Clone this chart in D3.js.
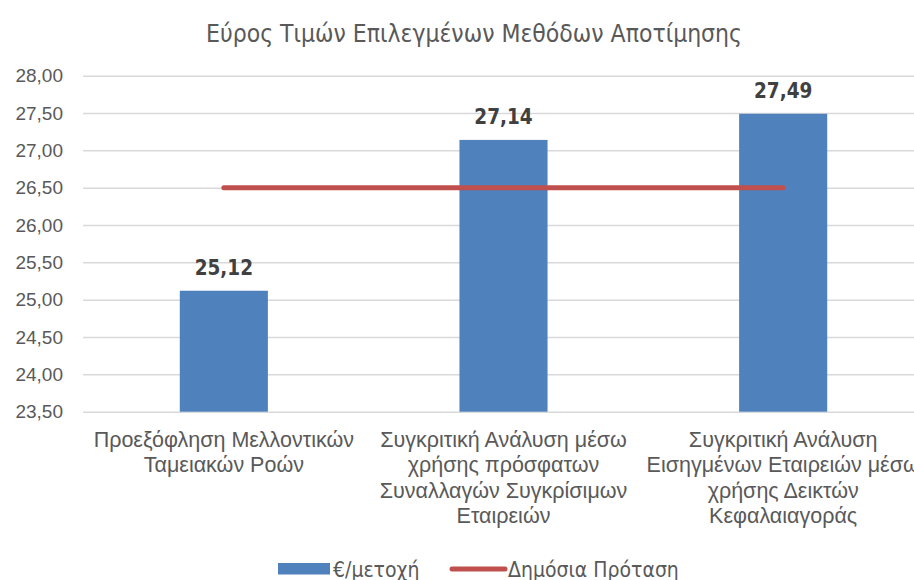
<!DOCTYPE html>
<html>
<head>
<meta charset="utf-8">
<script src="https://cdn.jsdelivr.net/npm/d3@7"></script>
<style>
  body { margin: 0; background: #fff; }
  svg { font-family: "DejaVu Sans Condensed", "DejaVu Sans", sans-serif; }
</style>
</head>
<body>
<script>
// Chart data.
const categories = ['dcf', 'transactions', 'multiples'];
const categoryLines = [
  ['Προεξόφληση Μελλοντικών', 'Ταμειακών Ροών'],
  ['Συγκριτική Ανάλυση μέσω', 'χρήσης πρόσφατων', 'Συναλλαγών Συγκρίσιμων', 'Εταιρειών'],
  ['Συγκριτική Ανάλυση', 'Εισηγμένων Εταιρειών μέσω', 'χρήσης Δεικτών', 'Κεφαλαιαγοράς']
];
const pricePerShare = [25.12, 27.14, 27.49];
const publicOffer = [26.5, 26.5, 26.5];
const yTicks = [23.5, 24, 24.5, 25, 25.5, 26, 26.5, 27, 27.5, 28];
const title = 'Εύρος Τιμών Επιλεγμένων Μεθόδων Αποτίμησης';
const legendLabels = ['€/μετοχή', 'Δημόσια Πρόταση'];

// Dimensions.
const pallette = {width: 914, height: 580};
const plot = {left: 84, right: 923, top: 75.7, bottom: 411.7};
const colors = {bar: '#4F81BD', line: '#C0504D', text: '#595959', label: '#404040', grid: '#D9D9D9'};

const fmt = (v) => v.toFixed(2).replace('.', ',');

const svg = d3.select('body')
  .append('svg')
  .attr('width', pallette.width)
  .attr('height', pallette.height);

// Scales.
const xScale = d3.scaleBand()
  .domain(categories)
  .range([plot.left, plot.right])
  .paddingInner(0.685)
  .paddingOuter(0.3425);

const yScale = d3.scaleLinear()
  .domain([23.5, 28])
  .range([plot.bottom, plot.top]);

// Title.
svg.append('text')
  .attr('x', 474)
  .attr('y', 42)
  .attr('text-anchor', 'middle')
  .style('font-size', '24.5px')
  .style('fill', colors.text)
  .text(title);

// Y axis with gridlines.
const yAxis = d3.axisLeft(yScale)
  .tickValues(yTicks)
  .tickFormat(fmt)
  .tickSize(-(plot.right - plot.left + 1))
  .tickPadding(20);

const yG = svg.append('g')
  .attr('transform', 'translate(' + (plot.left - 1) + ',0)')
  .call(yAxis);
yG.select('.domain').remove();
yG.selectAll('line').attr('stroke', colors.grid).attr('stroke-width', 1.5);
yG.selectAll('text')
  .style('font-size', '19px')
  .style('fill', colors.text)
  .style('font-family', 'inherit');

// Bars.
svg.selectAll('rect.bar')
  .data(pricePerShare)
  .enter()
  .append('rect')
  .attr('class', 'bar')
  .attr('x', (d, i) => xScale(categories[i]))
  .attr('y', (d) => yScale(d))
  .attr('width', xScale.bandwidth())
  .attr('height', (d) => plot.bottom - yScale(d))
  .style('fill', colors.bar);

// Bar value labels.
svg.selectAll('text.value')
  .data(pricePerShare)
  .enter()
  .append('text')
  .attr('class', 'value')
  .attr('x', (d, i) => xScale(categories[i]) + xScale.bandwidth() / 2)
  .attr('y', (d) => yScale(d) - 16)
  .attr('text-anchor', 'middle')
  .style('font-size', '20.5px')
  .style('font-weight', 'bold')
  .style('fill', colors.label)
  .text(fmt);

// Public offer line.
const line = d3.line()
  .x((d, i) => xScale(categories[i]) + xScale.bandwidth() / 2)
  .y((d) => yScale(d));

svg.append('path')
  .datum(publicOffer)
  .attr('d', line)
  .attr('fill', 'none')
  .attr('stroke', colors.line)
  .attr('stroke-width', 5)
  .attr('stroke-linecap', 'round');

// X axis (category labels, wrapped).
const xAxis = d3.axisBottom(xScale).tickSize(0).tickFormat('');
const xG = svg.append('g')
  .attr('transform', 'translate(0,' + plot.bottom + ')')
  .call(xAxis);
xG.select('.domain').remove();

xG.selectAll('.tick')
  .append('text')
  .attr('class', 'cat')
  .attr('text-anchor', 'middle')
  .style('font-size', '21.5px')
  .style('fill', colors.text)
  .each(function (d, i) {
    const t = d3.select(this);
    categoryLines[i].forEach((ln, j) => {
      t.append('tspan')
        .attr('x', 0)
        .attr('y', 35 + j * 25.5)
        .text(ln);
    });
  });

// Legend.
const legend = svg.append('g');
legend.append('rect')
  .attr('x', 278)
  .attr('y', 563)
  .attr('width', 52)
  .attr('height', 11.5)
  .style('fill', colors.bar);
legend.append('text')
  .attr('x', 333)
  .attr('y', 577)
  .style('font-size', '21px')
  .style('fill', colors.text)
  .text(legendLabels[0]);
legend.append('line')
  .attr('x1', 452)
  .attr('x2', 505)
  .attr('y1', 569)
  .attr('y2', 569)
  .attr('stroke', colors.line)
  .attr('stroke-width', 5)
  .attr('stroke-linecap', 'round');
legend.append('text')
  .attr('x', 508)
  .attr('y', 577)
  .style('font-size', '21px')
  .style('fill', colors.text)
  .text(legendLabels[1]);
</script>
</body>
</html>
